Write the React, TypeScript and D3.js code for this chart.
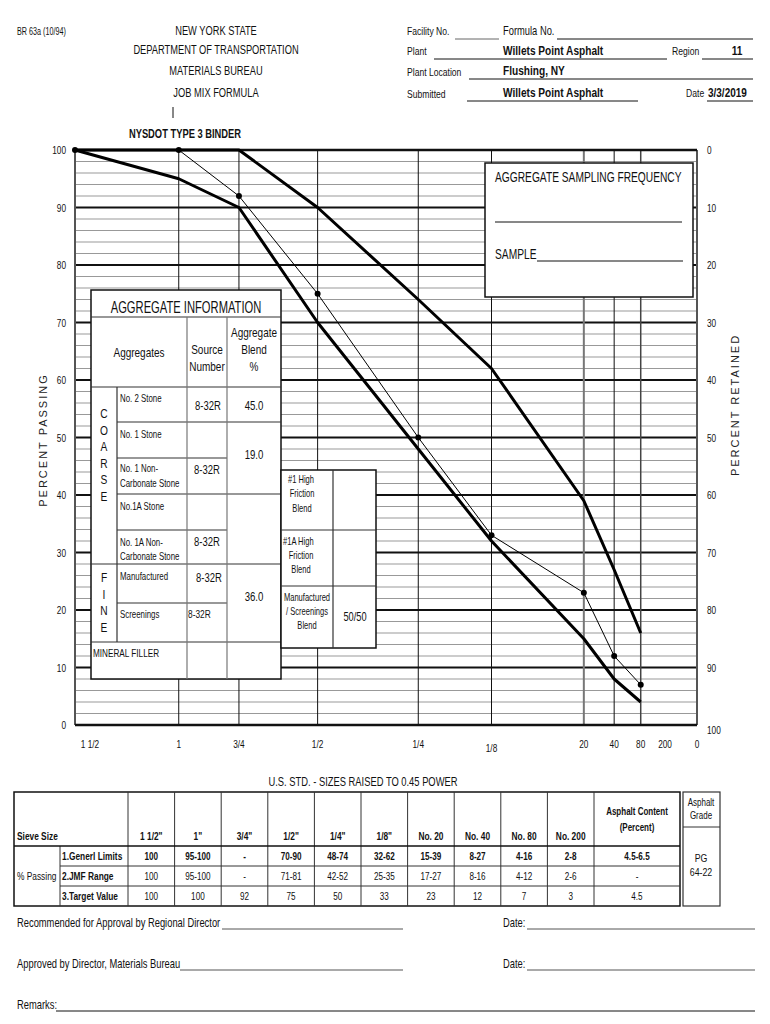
import React from "react";
import * as d3 from "d3";

const WIDE = "'Liberation Sans', Arial, sans-serif";

// Sieve sizes (mm) and axis labels
const sieveLabels = ["1 1/2", "1", "3/4", "1/2", "1/4", "1/8", "20", "40", "80", "200", "0"];
const sieveSizesMm = [37.5, 25, 19, 12.5, 6.3, 3.2, 0.85, 0.425, 0.18, 0.075, 0];
const gridSieves = [25, 19, 12.5, 6.3, 3.2, 0.85, 0.425, 0.18];
const plottedSieves = [37.5, 25, 19, 12.5, 6.3, 3.2, 0.85, 0.425, 0.18];

// Series (percent passing)
const upperLimit = [100, 100, 100, 90, 74, 62, 39, 27, 16];
const lowerLimit = [100, 95, 90, 70, 48, 32, 15, 8, 4];
const targetValue = [100, 100, 92, 75, 50, 33, 23, 12, 7];

const percentTicks = [0, 10, 20, 30, 40, 50, 60, 70, 80, 90, 100];

// Table
const tableSieves = ['1 1/2"', '1"', '3/4"', '1/2"', '1/4"', '1/8"', "No. 20", "No. 40", "No. 80", "No. 200"];
const generalLimits = ["100", "95-100", "-", "70-90", "48-74", "32-62", "15-39", "8-27", "4-16", "2-8", "4.5-6.5"];
const jmfRange = ["100", "95-100", "-", "71-81", "42-52", "25-35", "17-27", "8-16", "4-12", "2-6", "-"];
const targetRow = ["100", "100", "92", "75", "50", "33", "23", "12", "7", "3", "4.5"];
const rowLabels = ["1.Generl Limits", "2.JMF Range", "3.Target Value"];

type NP = { x: number; y: number; s?: number; w?: number; a?: string; b?: boolean; c?: string; children?: any };
const N = ({ x, y, s = 11, w = 0.75, a = "start", b = false, c = "#111", children }: NP) => (
  <text
    transform={`translate(${x},${y}) scale(${w},1)`}
    fontSize={s}
    textAnchor={a as any}
    fontWeight={b ? "bold" : "normal"}
    fill={c}
    fontFamily={WIDE}
  >
    {children}
  </text>
);

export default function App() {
  const x = d3.scalePow().exponent(0.45).domain([37.5, 0]).range([75, 697]);
  const y = d3.scaleLinear().domain([0, 100]).range([725, 150]);
  const yRet = d3.scaleLinear().domain([100, 0]).range([725, 150]);
  const line = d3
    .line<[number, number]>()
    .x((d) => x(d[0]))
    .y((d) => y(d[1]));
  const toPts = (vals: number[]) => vals.map((v, i) => [plottedSieves[i], v] as [number, number]);

  const minor = d3.range(0, 101, 2).filter((v) => v % 10 !== 0);
  const vStyle = (s: number) => {
    if (s === 0.85) return { stroke: "#777", w: 2 };
    if (s === 0.18) return { stroke: "#444", w: 1.5 };
    return { stroke: "#111", w: 1 };
  };

  // table geometry
  const tL = 14, tTop = 792, hdrB = 846, rowH = 20, colStart = 128, colW = 46.6, tR = 680;
  const colX = d3.range(11).map((i) => colStart + colW * i);
  const colCenters = colX.map((c, i) => (i < 10 ? c + colW / 2 : (c + tR) / 2));

  return (
    <svg width={770} height={1024} style={{ position: "absolute", left: 0, top: 0, background: "#fff" }}>
      <rect x={0} y={0} width={770} height={1024} fill="#fff" />
      {/* Header left */}
      <N x={17} y={35} s={10} w={0.72}>BR 63a (10/94)</N>
      <N x={216} y={35} s={13.3} w={0.7} a="middle">NEW YORK STATE</N>
      <N x={216} y={54} s={13.3} w={0.7} a="middle">DEPARTMENT OF TRANSPORTATION</N>
      <N x={216} y={75} s={13.3} w={0.7} a="middle">MATERIALS BUREAU</N>
      <N x={216} y={97} s={13.3} w={0.7} a="middle">JOB MIX FORMULA</N>
      <line x1={173} x2={173} y1={107} y2={118} stroke="#111" strokeWidth={1} />
      <N x={185} y={138} s={13} w={0.72} a="middle" b>NYSDOT TYPE 3 BINDER</N>

      {/* Header right */}
      <N x={407} y={35} s={11} w={0.78}>Facility No.</N>
      <line x1={455} x2={499} y1={39} y2={39} stroke="#666" strokeWidth={1} />
      <N x={503} y={35} s={12} w={0.78}>Formula No.</N>
      <line x1={557} x2={753} y1={39} y2={39} stroke="#111" strokeWidth={1} />
      <N x={407} y={55} s={11} w={0.78}>Plant</N>
      <line x1={434} x2={667} y1={59} y2={59} stroke="#111" strokeWidth={1} />
      <N x={503} y={55} s={13} w={0.78} b>Willets Point Asphalt</N>
      <N x={672} y={55} s={11.5} w={0.75}>Region</N>
      <line x1={702} x2={753} y1={59} y2={59} stroke="#111" strokeWidth={1} />
      <N x={737} y={55} s={13} w={0.78} a="middle" b>11</N>
      <N x={407} y={76} s={11} w={0.78}>Plant Location</N>
      <line x1={469} x2={753} y1={79} y2={79} stroke="#111" strokeWidth={1} />
      <N x={503} y={75} s={13} w={0.78} b>Flushing, NY</N>
      <N x={407} y={98} s={11} w={0.78}>Submitted</N>
      <line x1={467} x2={638} y1={101} y2={101} stroke="#111" strokeWidth={1} />
      <N x={503} y={97} s={13} w={0.78} b>Willets Point Asphalt</N>
      <N x={686} y={97} s={11.5} w={0.75}>Date</N>
      <N x={708} y={97} s={12.5} w={0.8} b>3/3/2019</N>
      <line x1={707} x2={753} y1={101} y2={101} stroke="#111" strokeWidth={1} />

      {/* Grid */}
      <g>
        {minor.map((v) => (
          <line key={"mn" + v} x1={75} x2={697} y1={y(v)} y2={y(v)} stroke="#999" strokeWidth={1} />
        ))}
        {percentTicks.map((v) => (
          <line key={"mj" + v} x1={75} x2={697} y1={y(v)} y2={y(v)} stroke="#111" strokeWidth={2} />
        ))}
        {gridSieves.map((s) => {
          const st = vStyle(s);
          return <line key={"v" + s} x1={x(s)} x2={x(s)} y1={150} y2={725} stroke={st.stroke} strokeWidth={st.w} />;
        })}
        <line x1={75} x2={75} y1={150} y2={725} stroke="#555" strokeWidth={2} />
        <line x1={697} x2={697} y1={150} y2={725} stroke="#555" strokeWidth={2} />
        <line x1={75} x2={697} y1={725} y2={725} stroke="#111" strokeWidth={2.5} />
        <line x1={75} x2={697} y1={150} y2={150} stroke="#111" strokeWidth={2.5} />
      </g>

      {/* Series */}
      <path d={line(toPts(upperLimit)) || ""} fill="none" stroke="#000" strokeWidth={3} strokeLinejoin="round" />
      <path d={line(toPts(lowerLimit)) || ""} fill="none" stroke="#000" strokeWidth={3} strokeLinejoin="round" />
      <path d={line(toPts(targetValue)) || ""} fill="none" stroke="#000" strokeWidth={1} />
      {toPts(targetValue).map((d, i) => (
        <circle key={"dot" + i} cx={x(d[0])} cy={y(d[1])} r={3} fill="#000" />
      ))}

      {/* Axis labels */}
      {percentTicks.map((v) => (
        <N key={"yl" + v} x={66} y={y(v) + 4} s={11.5} w={0.72} a="end">{String(v)}</N>
      ))}
      {percentTicks.map((v) => (
        <N key={"yr" + v} x={707} y={yRet(v) + 4 + (v === 100 ? 5 : 0)} s={11.5} w={0.72}>{String(v)}</N>
      ))}
      {sieveLabels.map((lab, i) => {
        let px = x(sieveSizesMm[i]);
        if (i === 0) px += 15;
        if (i === 9) px += 6;
        return (
          <N key={"xl" + i} x={px} y={i === 5 ? 752 : 748} s={11.5} w={0.72} a="middle">{lab}</N>
        );
      })}
      <N x={363} y={786} s={12.5} w={0.75} a="middle">U.S. STD. - SIZES RAISED TO 0.45 POWER</N>
      <g fontFamily={WIDE} fontSize={11} fill="#222" letterSpacing={2}>
        <text transform="translate(47,440) rotate(-90)" textAnchor="middle">PERCENT PASSING</text>
        <text transform="translate(739,405) rotate(-90)" textAnchor="middle">PERCENT RETAINED</text>
      </g>

      {/* Aggregate sampling frequency box */}
      <rect x={485} y={163} width={208} height={134} fill="#fff" stroke="#111" strokeWidth={1.5} />
      <N x={495} y={182} s={14} w={0.73}>AGGREGATE SAMPLING FREQUENCY</N>
      <line x1={495} x2={682} y1={222} y2={222} stroke="#111" strokeWidth={1} />
      <N x={495} y={259} s={14} w={0.73}>SAMPLE</N>
      <line x1={537} x2={683} y1={261} y2={261} stroke="#111" strokeWidth={1} />

      {/* Aggregate information box */}
      <rect x={91} y={290} width={190} height={389} fill="#fff" stroke="#111" strokeWidth={1.5} />
      <N x={186} y={313} s={16} w={0.7} a="middle">AGGREGATE INFORMATION</N>
      <g stroke="#333" strokeWidth={1.2}>
        <line x1={91} x2={281} y1={317} y2={317} />
        <line x1={91} x2={281} y1={387} y2={387} />
        <line x1={117} x2={281} y1={422} y2={422} />
        <line x1={117} x2={227} y1={458} y2={458} />
        <line x1={117} x2={281} y1={494} y2={494} />
        <line x1={117} x2={227} y1={530} y2={530} />
        <line x1={91} x2={281} y1={564} y2={564} />
        <line x1={117} x2={227} y1={603} y2={603} />
        <line x1={91} x2={281} y1={642} y2={642} />
        <line x1={117} x2={117} y1={387} y2={642} />
        <line x1={187} x2={187} y1={317} y2={679} stroke="#777" />
        <line x1={227} x2={227} y1={317} y2={679} stroke="#777" />
      </g>
      <N x={139} y={357} s={12.5} w={0.8} a="middle">Aggregates</N>
      <N x={207} y={354} s={12.5} w={0.8} a="middle">Source</N>
      <N x={207} y={371} s={12.5} w={0.8} a="middle">Number</N>
      <N x={254} y={337} s={12.5} w={0.8} a="middle">Aggregate</N>
      <N x={254} y={354} s={12.5} w={0.8} a="middle">Blend</N>
      <N x={254} y={371} s={12.5} w={0.8} a="middle">%</N>
      {["C", "O", "A", "R", "S", "E"].map((c, i) => (
        <N key={"co" + i} x={104} y={418 + i * 16.5} s={12} w={0.85} a="middle">{c}</N>
      ))}
      {["F", "I", "N", "E"].map((c, i) => (
        <N key={"fi" + i} x={104} y={582 + i * 16.5} s={12} w={0.85} a="middle">{c}</N>
      ))}
      <N x={120} y={402} s={10.5} w={0.75}>No. 2 Stone</N>
      <N x={120} y={438} s={10.5} w={0.75}>No. 1 Stone</N>
      <N x={120} y={472} s={10.5} w={0.75}>No. 1 Non-</N>
      <N x={120} y={487} s={10.5} w={0.75}>Carbonate Stone</N>
      <N x={120} y={510} s={10.5} w={0.75}>No.1A Stone</N>
      <N x={120} y={546} s={10.5} w={0.75}>No. 1A Non-</N>
      <N x={120} y={560} s={10.5} w={0.75}>Carbonate Stone</N>
      <N x={120} y={580} s={10.5} w={0.75}>Manufactured</N>
      <N x={120} y={618} s={10.5} w={0.75}>Screenings</N>
      <N x={93} y={657} s={10.5} w={0.78}>MINERAL FILLER</N>
      <N x={208} y={410} s={12.5} w={0.76} a="middle">8-32R</N>
      <N x={207} y={474} s={12.5} w={0.76} a="middle">8-32R</N>
      <N x={207} y={546} s={12.5} w={0.76} a="middle">8-32R</N>
      <N x={209} y={582} s={12.5} w={0.76} a="middle">8-32R</N>
      <N x={188} y={618} s={11} w={0.76}>8-32R</N>
      <N x={254} y={410} s={12.5} w={0.77} a="middle">45.0</N>
      <N x={254} y={459} s={12.5} w={0.77} a="middle">19.0</N>
      <N x={254} y={601} s={12.5} w={0.77} a="middle">36.0</N>

      {/* High friction box */}
      <rect x={281} y={470} width={95} height={178} fill="#fff" stroke="#111" strokeWidth={1.5} />
      <g stroke="#333" strokeWidth={1.2}>
        <line x1={333} x2={333} y1={470} y2={648} />
        <line x1={281} x2={376} y1={530} y2={530} />
        <line x1={281} x2={376} y1={586} y2={586} />
      </g>
      <N x={301} y={483} s={10.5} w={0.72} a="middle">#1 High</N>
      <N x={302} y={497} s={10.5} w={0.72} a="middle">Friction</N>
      <N x={302} y={512} s={10.5} w={0.72} a="middle">Blend</N>
      <N x={283} y={545} s={10.5} w={0.72}>#1A High</N>
      <N x={301} y={559} s={10.5} w={0.72} a="middle">Friction</N>
      <N x={301} y={573} s={10.5} w={0.72} a="middle">Blend</N>
      <N x={307} y={601} s={10.5} w={0.72} a="middle">Manufactured</N>
      <N x={307} y={615} s={10.5} w={0.72} a="middle">/ Screenings</N>
      <N x={307} y={629} s={10.5} w={0.72} a="middle">Blend</N>
      <N x={355} y={621} s={12.5} w={0.74} a="middle">50/50</N>

      {/* Bottom table */}
      <rect x={tL} y={tTop} width={tR - tL} height={hdrB + 3 * rowH - tTop} fill="none" stroke="#111" strokeWidth={1.5} />
      <g stroke="#333" strokeWidth={1}>
        {colX.map((c, i) => (
          <line key={"tc" + i} x1={c} x2={c} y1={tTop} y2={hdrB + 3 * rowH} />
        ))}
        <line x1={60} x2={60} y1={hdrB} y2={hdrB + 3 * rowH} />
        <line x1={tL} x2={tR} y1={hdrB} y2={hdrB} stroke="#111" strokeWidth={1.5} />
        <line x1={60} x2={tR} y1={hdrB + rowH} y2={hdrB + rowH} />
        <line x1={60} x2={tR} y1={hdrB + 2 * rowH} y2={hdrB + 2 * rowH} />
      </g>
      <N x={17} y={840} s={11} w={0.76} b>Sieve Size</N>
      {tableSieves.map((s, i) => (
        <N key={"th" + i} x={colCenters[i]} y={840} s={11} w={0.76} a="middle" b>{s}</N>
      ))}
      <N x={colCenters[10]} y={815} s={10} w={0.8} a="middle" b>Asphalt Content</N>
      <N x={colCenters[10]} y={831} s={10} w={0.8} a="middle" b>(Percent)</N>
      {rowLabels.map((r, i) => (
        <N key={"rl" + i} x={62} y={hdrB + rowH * i + 14} s={11} w={0.76} b>{r}</N>
      ))}
      {generalLimits.map((v, i) => (
        <N key={"g" + i} x={colCenters[i]} y={hdrB + 14} s={11} w={0.74} a="middle" b>{v}</N>
      ))}
      <N x={17} y={880} s={11} w={0.76}>% Passing</N>
      {jmfRange.map((v, i) => (
        <N key={"j" + i} x={colCenters[i]} y={hdrB + rowH + 14} s={11} w={0.74} a="middle">{v}</N>
      ))}
      {targetRow.map((v, i) => (
        <N key={"tv" + i} x={colCenters[i]} y={hdrB + 2 * rowH + 14} s={11} w={0.74} a="middle">{v}</N>
      ))}
      {/* Asphalt grade box */}
      <rect x={683} y={792} width={37} height={114} fill="none" stroke="#333" strokeWidth={1.2} />
      <line x1={683} x2={720} y1={827} y2={827} stroke="#333" strokeWidth={1} />
      <N x={701} y={806} s={10} w={0.8} a="middle">Asphalt</N>
      <N x={701} y={819} s={10} w={0.8} a="middle">Grade</N>
      <N x={701} y={862} s={11} w={0.8} a="middle">PG</N>
      <N x={701} y={876} s={11} w={0.8} a="middle">64-22</N>

      {/* Footer */}
      <N x={17} y={927} s={12} w={0.78}>Recommended for Approval by Regional Director</N>
      <line x1={222} x2={403} y1={929} y2={929} stroke="#555" strokeWidth={1} />
      <N x={503} y={927} s={12} w={0.78}>Date:</N>
      <N x={17} y={968} s={12} w={0.78}>Approved by Director, Materials Bureau</N>
      <line x1={527} x2={755} y1={929} y2={929} stroke="#555" strokeWidth={1} />
      <line x1={180} x2={403} y1={970} y2={970} stroke="#555" strokeWidth={1} />
      <N x={503} y={968} s={12} w={0.78}>Date:</N>
      <line x1={527} x2={755} y1={970} y2={970} stroke="#555" strokeWidth={1} />
      <N x={17} y={1009} s={12} w={0.78}>Remarks:</N>
      <line x1={56} x2={755} y1={1011} y2={1011} stroke="#111" strokeWidth={1} />
    </svg>
  );
}
